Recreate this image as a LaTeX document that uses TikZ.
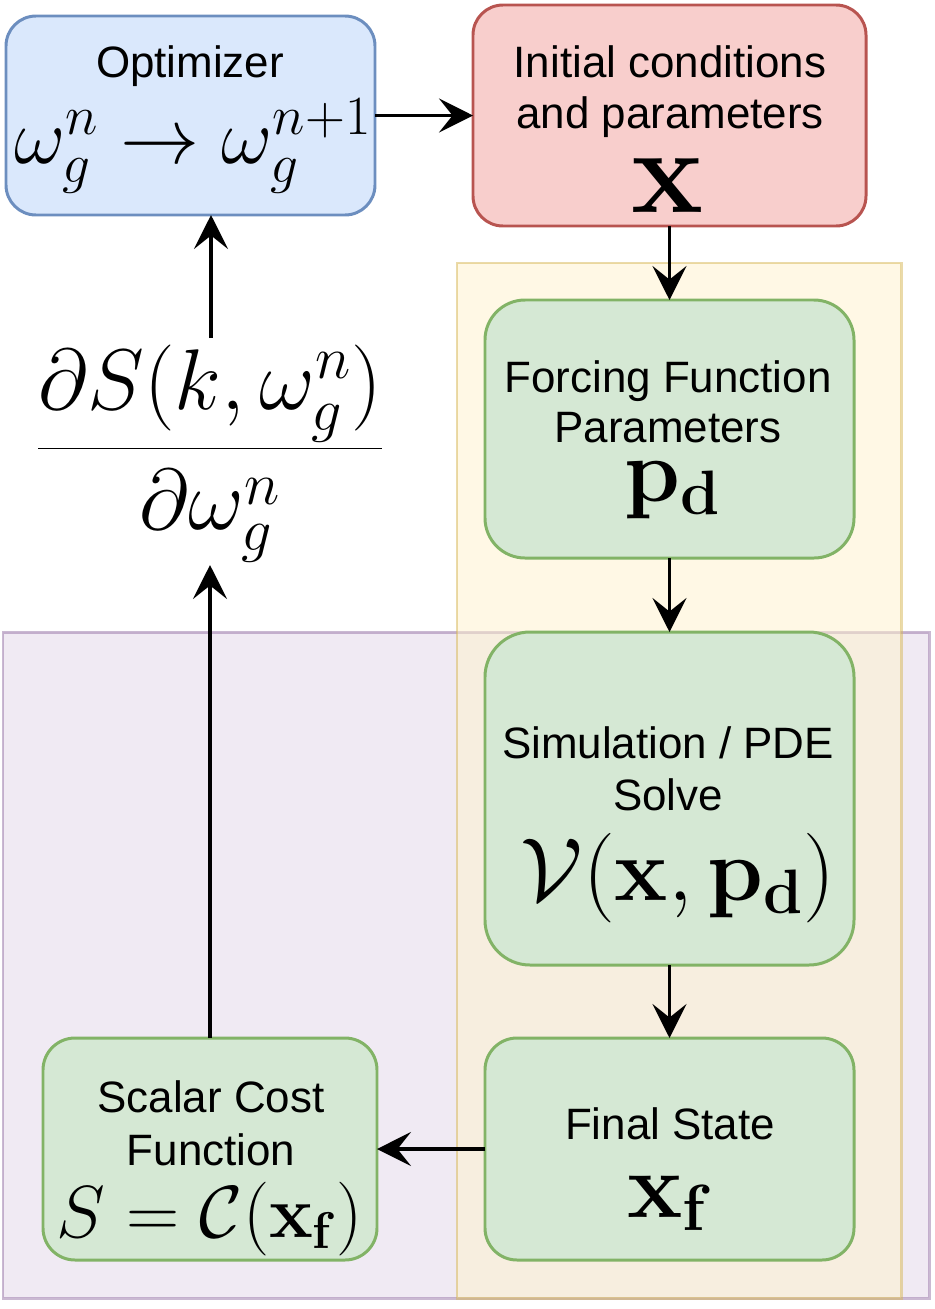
\RequirePackage{fix-cm}
\documentclass[tikz,border=0pt]{standalone}
\usepackage{amsmath}
\usepackage[no-math]{fontspec}
\setmainfont{Liberation Sans}
\usetikzlibrary{arrows.meta}
\definecolor{bluefill}{HTML}{DAE8FC}
\definecolor{bluedraw}{HTML}{6C8EBF}
\definecolor{redfill}{HTML}{F8CECC}
\definecolor{reddraw}{HTML}{B85450}
\definecolor{greenfill}{HTML}{D5E8D4}
\definecolor{greendraw}{HTML}{82B366}
\definecolor{yelfill}{HTML}{FFF2CC}
\definecolor{yeldraw}{HTML}{D6B656}
\definecolor{purfill}{HTML}{E1D5E7}
\definecolor{purdraw}{HTML}{9673A6}
\newcommand\pxl{0.02cm}
\begin{document}
\begin{tikzpicture}[x=0.02cm,y=-0.02cm,
  boxbase/.style={rectangle, inner sep=0pt, outer sep=0pt, line width=1.7pt},
  bluebox/.style={boxbase, fill=bluefill, draw=bluedraw, rounded corners=0.6cm},
  redbox/.style={boxbase, fill=redfill, draw=reddraw, rounded corners=0.6cm},
  greenbox/.style={boxbase, fill=greenfill, draw=greendraw},
  container/.style={line width=1.7pt, fill opacity=0.5, draw opacity=0.5},
  lbl/.style={anchor=base, inner sep=0pt, font=\fontsize{25}{30}\selectfont},
  arr/.style={line width=1.8pt, -{Stealth[length=0.68cm, width=0.68cm, inset=0.27cm]}}
]
\useasboundingbox (0,0) rectangle (934,1309);

% containers
\draw[container, fill=purfill, draw=purdraw] (3,632) rectangle (929,1298);
\draw[container, fill=yelfill, draw=yeldraw] (457,263) rectangle (901,1298);

% boxes
\node[bluebox, minimum width=369*\pxl, minimum height=199*\pxl] (opt) at (190.5,115.5) {};
\node[redbox, minimum width=393*\pxl, minimum height=221*\pxl] (init) at (669.5,115.5) {};
\node[greenbox, rounded corners=0.8cm, minimum width=369*\pxl, minimum height=258*\pxl] (forc) at (669.5,429) {};
\node[greenbox, rounded corners=0.9cm, minimum width=369*\pxl, minimum height=333*\pxl] (sim) at (669.5,798.5) {};
\node[greenbox, rounded corners=0.64cm, minimum width=369*\pxl, minimum height=222*\pxl] (final) at (669.5,1149) {};
\node[greenbox, rounded corners=0.64cm, minimum width=334*\pxl, minimum height=222*\pxl] (scalar) at (210,1149) {};

% texts
\node[lbl] (optT) at (190,77) {Optimizer};
\node[lbl] (optM) at (193,163) {\fontsize{45}{54}\selectfont$\omega_g^n \rightarrow \omega_g^{n+1}$};

\node[lbl] (initT1) at (670,77) {Initial conditions};
\node[lbl] (initT2) at (670,128) {and parameters};
\node[lbl] (initM) at (667,212) {\fontsize{69}{80}\selectfont$\mathbf{x}$};

\node[lbl] (forcT1) at (668,392) {Forcing Function};
\node[lbl] (forcT2) at (668,442) {Parameters};
\node[lbl] (forcM) at (673,501) {\fontsize{51}{60}\selectfont$\mathbf{p_d}$};

\node[lbl] (simT1) at (668,758) {Simulation / PDE};
\node[lbl] (simT2) at (668,810) {Solve};
\node[lbl] (simM) at (678,900) {\fontsize{51}{60}\selectfont$\mathcal{V}(\mathbf{x},\mathbf{p_d})$};

\node[lbl] (finalT) at (670,1139) {Final State};
\node[lbl] (finalM) at (670,1217) {\fontsize{53}{62}\selectfont$\mathbf{x_f}$};

\node[lbl] (scalT1) at (211,1112) {Scalar Cost};
\node[lbl] (scalT2) at (211,1165) {Function};
\node[lbl] (scalM) at (210,1237) {\fontsize{42}{50}\selectfont$S=\mathcal{C}(\mathbf{x_f})$};

\node[lbl] (frac) at (210,470) {\fontsize{49}{58}\selectfont$\dfrac{\partial S(k,\omega_g^n)}{\partial \omega_g^n}$};
\coordinate (fracTop) at (211,338);
\coordinate (fracBot) at (211,565);

% connectors
\draw[arr] (opt.east) -- (init.west);
\draw[arr] (init.south) -- (forc.north);
\draw[arr] (forc.south) -- (sim.north);
\draw[arr] (sim.south) -- (final.north);
\draw[arr] (final.west) -- (scalar.east);
\draw[arr] (scalar.north) -- (scalar.north |- fracBot);
\draw[arr] (fracTop) -- (fracTop |- opt.south);
\end{tikzpicture}
\end{document}
